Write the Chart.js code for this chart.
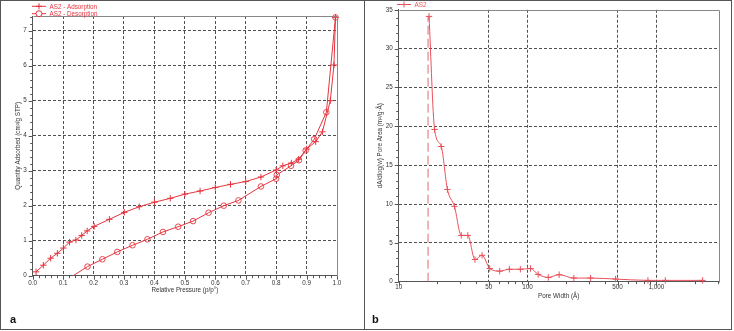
<!DOCTYPE html>
<html>
<head>
<meta charset="utf-8">
<script src="https://cdn.jsdelivr.net/npm/chart.js@4.4.1/dist/chart.umd.min.js"></script>
<style>
    body { margin: 0; background: #fff; }
    #wrap { position: relative; width: 734px; height: 331px; overflow: hidden; }
    canvas { position: absolute; top: 0; }
    #isoChart { left: 0; }
    #poreChart { left: 365px; }
    .frame { position: absolute; left: 0; top: 0; width: 730px; height: 328px; border: 1px solid #555; }
    .divider { position: absolute; left: 364px; top: 0; width: 1px; height: 330px; background: #555; }
    .tag { position: absolute; top: 313px; font: bold 11px 'Liberation Sans', Arial, sans-serif; color: #111; }
</style>
</head>
<body>
<div id="wrap">
    <canvas id="isoChart" width="364" height="331"></canvas>
    <canvas id="poreChart" width="369" height="331"></canvas>
    <div class="frame"></div>
    <div class="divider"></div>
    <div class="tag" style="left:10px">a</div>
    <div class="tag" style="left:372px">b</div>
</div>
<script>
// isotherm (panel a)
const adsP = [0.011, 0.035, 0.059, 0.081, 0.101, 0.121, 0.142, 0.161, 0.179, 0.202, 0.252, 0.301, 0.350, 0.400, 0.452, 0.500, 0.550, 0.600, 0.650, 0.700, 0.750, 0.800, 0.822, 0.850, 0.874, 0.900, 0.930, 0.952, 0.978, 0.990, 0.995];
const adsQ = [0.11, 0.30, 0.50, 0.64, 0.79, 0.96, 1.02, 1.15, 1.28, 1.41, 1.61, 1.81, 1.97, 2.10, 2.21, 2.33, 2.42, 2.52, 2.61, 2.69, 2.82, 3.02, 3.14, 3.22, 3.33, 3.62, 3.83, 4.11, 5.00, 6.02, 7.38];
const desP = [0.133, 0.180, 0.229, 0.278, 0.328, 0.377, 0.428, 0.478, 0.527, 0.578, 0.628, 0.676, 0.750, 0.800, 0.802, 0.849, 0.875, 0.897, 0.925, 0.965, 0.995];
const desQ = [0.00, 0.26, 0.47, 0.68, 0.87, 1.04, 1.25, 1.40, 1.56, 1.80, 2.00, 2.15, 2.55, 2.77, 2.88, 3.14, 3.30, 3.58, 3.90, 4.67, 7.38];

// pore area distribution (panel b)
const poreW = [17.2, 19.0, 21.4, 23.9, 27.1, 30.6, 34.4, 39.1, 44.4, 50.9, 60.8, 72.3, 88, 105.5, 121, 145, 176, 229, 309, 483, 861, 1175, 2290];
const poreA = [34.15, 19.6, 17.4, 11.87, 9.7, 5.96, 5.96, 2.85, 3.4, 1.7, 1.36, 1.6, 1.6, 1.7, 0.94, 0.55, 0.9, 0.47, 0.47, 0.34, 0.17, 0.17, 0.17];
const guideW = [16.9, 16.9];
const guideA = [0, 34.2];

// tick labels
const pressureTicks = [0, 0.1, 0.2, 0.3, 0.4, 0.5, 0.6, 0.7, 0.8, 0.9, 1.0];
const quantityTicks = [0, 1, 2, 3, 4, 5, 6, 7];
const widthTicks = [10, 50, 100, 500, 1000];
const areaTicks = [0, 5, 10, 15, 20, 25, 30, 35];

const RED = '#e6343e';
const PINK_RED = '#e8505a';
const FONT = "'Liberation Sans', Arial, sans-serif";
Chart.defaults.font.family = FONT;
Chart.defaults.font.size = 6.3;
Chart.defaults.color = '#333';

const pts = (xs, ys) => xs.map((x, i) => ({ x: x, y: ys[i] }));

const range = (a, b, step) => {
    const out = [];
    for (let v = a; v <= b + 1e-9; v += step) out.push(+v.toFixed(4));
    return out;
};

// small tick marks + top/right frame of the plot area
const tickMarks = {
    id: 'tickMarks',
    afterDraw(chart, args, opts) {
        const ctx = chart.ctx;
        const area = chart.chartArea;
        ctx.save();
        ctx.strokeStyle = '#555';
        ctx.lineWidth = 1;
        ctx.beginPath();
        const xs = chart.scales.x, ys = chart.scales.y;
        opts.x.minor.forEach(v => {
            const p = Math.round(xs.getPixelForValue(v)) + 0.5;
            const len = opts.x.major.includes(v) ? 4 : 2.5;
            ctx.moveTo(p, area.bottom); ctx.lineTo(p, area.bottom + len);
        });
        opts.y.minor.forEach(v => {
            const p = Math.round(ys.getPixelForValue(v)) + 0.5;
            const len = opts.y.major.includes(v) ? 4 : 2.5;
            ctx.moveTo(area.left, p); ctx.lineTo(area.left - len, p);
        });
        ctx.stroke();
        ctx.strokeStyle = '#888';
        ctx.beginPath();
        ctx.moveTo(Math.round(area.left) + 0.5, Math.round(area.top) + 0.5);
        ctx.lineTo(Math.round(area.right) + 0.5, Math.round(area.top) + 0.5);
        ctx.lineTo(Math.round(area.right) + 0.5, Math.round(area.bottom) + 0.5);
        ctx.stroke();
        ctx.restore();
    }
};

// legend drawn as "line + marker + text", like the instrument software
const lineLegend = {
    id: 'lineLegend',
    afterDraw(chart, args, opts) {
        const ctx = chart.ctx;
        ctx.save();
        let y = opts.y;
        chart.data.datasets.forEach(ds => {
            if (!ds.label) return;
            ctx.strokeStyle = ds.borderColor;
            ctx.lineWidth = 1;
            ctx.beginPath();
            ctx.moveTo(opts.x, y);
            ctx.lineTo(opts.x + opts.lineLen, y);
            ctx.stroke();
            ctx.fillStyle = '#fff';
            Chart.helpers.drawPoint(ctx, {
                pointStyle: ds.pointStyle,
                radius: 3,
                borderWidth: 1,
                rotation: 0
            }, opts.x + opts.lineLen / 2, y);
            ctx.fillStyle = ds.borderColor;
            ctx.font = '6.3px ' + FONT;
            ctx.textBaseline = 'middle';
            ctx.fillText(ds.label, opts.x + opts.lineLen + 3.5, y + 0.5);
            y += opts.rowGap;
        });
        ctx.restore();
    }
};

const gridColor = (ctx) => {
    const s = ctx.scale;
    if (!ctx.tick || ctx.tick.value === s.min || ctx.tick.value === s.max) return 'rgba(0,0,0,0)';
    return '#505050';
};

new Chart(document.getElementById('isoChart'), {
    type: 'scatter',
    data: {
        datasets: [{
            label: 'AS2 - Adsorption',
            data: pts(adsP, adsQ),
            showLine: true,
            borderColor: RED,
            backgroundColor: RED,
            borderWidth: 1,
            pointStyle: 'cross',
            pointRadius: 3.2,
            pointBorderWidth: 1,
            clip: 5
        }, {
            label: 'AS2 - Desorption',
            data: pts(desP, desQ),
            showLine: true,
            borderColor: RED,
            backgroundColor: 'rgba(255,255,255,0)',
            borderWidth: 1,
            pointStyle: 'circle',
            pointRadius: desP.map((v, i) => i === 0 ? 0 : 2.8),
            pointBorderWidth: 0.9,
            clip: 5
        }]
    },
    options: {
        responsive: false,
        animation: false,
        layout: { autoPadding: false, padding: { left: 0, right: 27, top: 16, bottom: 0 } },
        scales: {
            x: {
                type: 'linear',
                min: 0,
                max: 1.0,
                afterBuildTicks: s => { s.ticks = pressureTicks.map(v => ({ value: v })); },
                afterFit: s => { s.height = 55.3; },
                ticks: { padding: 4, maxRotation: 0, callback: v => v.toFixed(1) },
                grid: { drawTicks: false, color: gridColor, lineWidth: 1 },
                border: { color: '#555', dash: [3, 2] },
                title: { display: true, text: 'Relative Pressure (p/p°)', padding: { top: 0, bottom: 37.4 }, color: '#333' }
            },
            y: {
                min: 0,
                max: 7.42,
                afterBuildTicks: s => { s.ticks = quantityTicks.map(v => ({ value: v })); },
                afterFit: s => { s.width = 32.7; },
                ticks: { padding: 6 },
                grid: { drawTicks: false, color: gridColor, lineWidth: 1 },
                border: { color: '#555', dash: [3, 2] },
                title: { display: true, text: 'Quantity Adsorbed (cm³/g STP)', padding: { top: 14.4, bottom: 0 }, color: '#333' }
            }
        },
        plugins: {
            legend: { display: false },
            tooltip: { enabled: false },
            tickMarks: {
                x: { major: pressureTicks, minor: range(0, 1, 0.02) },
                y: { major: quantityTicks, minor: range(0, 7.4, 0.2) }
            },
            lineLegend: { x: 32, y: 6.3, rowGap: 7.4, lineLen: 14 }
        }
    },
    plugins: [tickMarks, lineLegend]
});

const logMinor = [];
[10, 100, 1000].forEach(d => { for (let k = 1; k <= 9; k++) if (d * k <= 3050) logMinor.push(d * k); });

new Chart(document.getElementById('poreChart'), {
    type: 'scatter',
    data: {
        datasets: [{
            label: 'AS2',
            data: pts(poreW, poreA),
            showLine: true,
            borderColor: PINK_RED,
            backgroundColor: PINK_RED,
            borderWidth: 1,
            pointStyle: 'cross',
            pointRadius: 3.2,
            pointBorderWidth: 1,
            cubicInterpolationMode: 'monotone',
            clip: 5
        }, {
            label: '',
            data: pts(guideW, guideA),
            showLine: true,
            borderColor: '#e06a70',
            borderWidth: 1,
            borderDash: [9, 4],
            pointRadius: 0
        }]
    },
    options: {
        responsive: false,
        animation: false,
        layout: { autoPadding: false, padding: { left: 0, right: 15.3, top: 7.3, bottom: 0 } },
        scales: {
            x: {
                type: 'logarithmic',
                min: 10,
                max: 3050,
                afterBuildTicks: s => { s.ticks = widthTicks.map(v => ({ value: v })); },
                afterFit: s => { s.height = 49.3; },
                ticks: { padding: 1.5, maxRotation: 0, autoSkip: false, callback: v => Number(v).toLocaleString('en-US') },
                grid: { drawTicks: false, color: gridColor, lineWidth: 1 },
                border: { color: '#555', dash: [3, 2] },
                title: { display: true, text: 'Pore Width (Å)', padding: { top: 0, bottom: 30.7 }, color: '#333' }
            },
            y: {
                min: 0,
                max: 35,
                afterBuildTicks: s => { s.ticks = areaTicks.map(v => ({ value: v })); },
                afterFit: s => { s.width = 33.7; },
                ticks: { padding: 6 },
                grid: { drawTicks: false, color: gridColor, lineWidth: 1 },
                border: { color: '#555', dash: [3, 2] },
                title: { display: true, text: 'dA/dlog(w) Pore Area (m²/g·Å)', padding: { top: 11.4, bottom: 0 }, color: '#333' }
            }
        },
        plugins: {
            legend: { display: false },
            tooltip: { enabled: false },
            tickMarks: {
                x: { major: widthTicks, minor: logMinor },
                y: { major: areaTicks, minor: range(0, 35, 1) }
            },
            lineLegend: { x: 32, y: 4.5, rowGap: 7.4, lineLen: 14 }
        }
    },
    plugins: [tickMarks, lineLegend]
});
</script>
</body>
</html>
